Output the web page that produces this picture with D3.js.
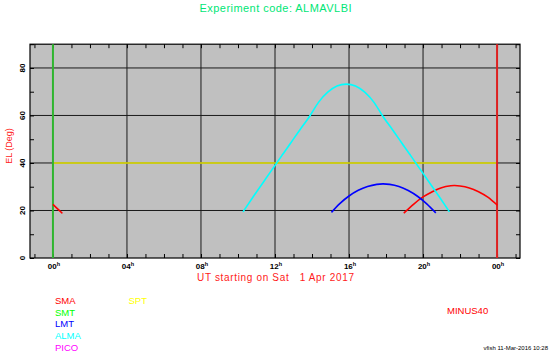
<!DOCTYPE html>
<html><head><meta charset="utf-8">
<script src="https://cdn.jsdelivr.net/npm/d3@7"></script>
<style>
html,body{margin:0;padding:0;background:#fff;}
svg{display:block;font-family:"Liberation Sans",Arial,sans-serif;}
</style></head>
<body><svg id="c" width="549" height="352"></svg>
<script>
// ---- data ----
const majorHours = [0, 4, 8, 12, 16, 20, 24];
const majorHourLabels = ["00", "04", "08", "12", "16", "20", "00"];
const minorHours = [-1,0,1,2,3,4,5,6,7,8,9,10,11,12,13,14,15,16,17,18,19,20,21,22,23,24,25];
const elTicks = [0, 20, 40, 60, 80];
const elMinor = [10, 30, 50, 70, 90];
const gridHours = [4, 8, 12, 16, 20];
const gridEl = [20, 40, 60, 80];

const smaHoursA = [0, 0.25, 0.51];
const smaElA = [22.6, 20.7, 18.8];
const smaHoursB = [18.96, 19.5, 20, 20.5, 21, 21.5, 21.71, 22, 22.5, 23, 23.5, 24.02];
const smaElB = [18.9, 22.7, 25.7, 27.9, 29.6, 30.4, 30.5, 30.3, 29.5, 27.9, 25.6, 22.2];
const lmtHours = [15.05, 15.5, 16, 16.5, 17, 17.5, 17.84, 18.2, 18.7, 19.2, 19.7, 20.2, 20.69];
const lmtEl = [19.2, 22.9, 26.1, 28.5, 30.1, 31.0, 31.2, 31.0, 30.1, 28.4, 26.0, 22.8, 19.0];
const almaHours = [10.27, 10.85, 11.35, 11.85, 12.09, 12.35, 12.85, 13.35, 13.9, 14.35, 14.85, 15.35, 15.85,
                   16.35, 16.85, 17.35, 17.8, 18.35, 18.85, 19.35, 19.61, 19.85, 20.35, 20.85, 21.43];
const almaEl = [19.4, 26.1, 31.7, 37.3, 40.0, 42.9, 48.4, 54.0, 60.0, 65.5, 69.8, 72.4, 73.2,
                72.4, 69.8, 65.5, 60.0, 54.0, 48.4, 42.9, 40.0, 37.3, 31.7, 26.1, 19.4];
const sptHours = [0, 24];
const sptEl = [40, 40];

const legendLeft = ["SMA", "SMT", "LMT", "ALMA", "PICO"];
const legendLeftColors = ["#ff0000", "#00ff00", "#0000ff", "#00ffff", "#ff00ff"];
const legendMid = ["SPT"];
const legendMidColors = ["#ffff00"];
const legendRight = ["MINUS40"];
const legendRightColors = ["#ff0000"];

const titleText = "Experiment code: ALMAVLBI";
const xLabelText = "UT starting on Sat   1 Apr 2017";
const yLabelText = "EL (Deg)";
const footerText = "vfish 11-Mar-2016 10:28";
const startHour = 0, endHour = 24;

// ---- layout ----
const svg = d3.select("#c");
const L = 30, R = 520, T = 44.2, B = 258;
const x = d3.scaleLinear().domain([-1.24, 25.24]).range([L, R]);
const y = d3.scaleLinear().domain([0, 90]).range([B, T]);

svg.append("rect").attr("x", L).attr("y", T).attr("width", R - L).attr("height", B - T)
  .attr("fill", "#c0c0c0");

// grid
svg.append("g").selectAll("line").data(gridHours).join("line")
  .attr("x1", d => x(d)).attr("x2", d => x(d)).attr("y1", T).attr("y2", B)
  .attr("stroke", "#1a1a1a").attr("stroke-width", 1);
svg.append("g").selectAll("line").data(gridEl).join("line")
  .attr("x1", L).attr("x2", R).attr("y1", d => y(d)).attr("y2", d => y(d))
  .attr("stroke", "#1a1a1a").attr("stroke-width", 1);

// ticks via axes (inward)
const axB = d3.axisBottom(x).tickValues(minorHours).tickSize(-4).tickFormat("");
const axT = d3.axisTop(x).tickValues(minorHours).tickSize(-4).tickFormat("");
const axL = d3.axisLeft(y).tickValues(elMinor.concat(elTicks)).tickSize(-4).tickFormat("");
const axR = d3.axisRight(y).tickValues(elMinor.concat(elTicks)).tickSize(-4).tickFormat("");
[[axB, `translate(0,${B})`], [axT, `translate(0,${T})`], [axL, `translate(${L},0)`], [axR, `translate(${R},0)`]]
  .forEach(([ax, tr]) => {
    const g = svg.append("g").attr("transform", tr).call(ax);
    g.select(".domain").remove();
    g.selectAll("line").attr("stroke", "#000");
  });

// frame
svg.append("rect").attr("x", L).attr("y", T).attr("width", R - L).attr("height", B - T)
  .attr("fill", "none").attr("stroke", "#000").attr("stroke-width", 1.2);

// SPT
svg.append("path").datum(d3.zip(sptHours, sptEl)).attr("d", d3.line().x(d => x(d[0])).y(d => y(d[1])))
  .attr("fill", "none").attr("stroke", "#e8e800").attr("stroke-width", 1.6);

// start/end markers
svg.append("line").attr("x1", x(startHour)).attr("x2", x(startHour)).attr("y1", T).attr("y2", B)
  .attr("stroke", "#2fb52f").attr("stroke-width", 2);
svg.append("line").attr("x1", x(endHour)).attr("x2", x(endHour)).attr("y1", T).attr("y2", B)
  .attr("stroke", "#dd2020").attr("stroke-width", 2);

// curves
const line = d3.line().x(d => x(d[0])).y(d => y(d[1])).curve(d3.curveNatural);
const series = [
  [smaHoursA, smaElA, "#ff0000"],
  [smaHoursB, smaElB, "#ff0000"],
  [lmtHours, lmtEl, "#0000ff"],
  [almaHours, almaEl, "#00ffff"],
];
series.forEach(([h, e, c]) => {
  svg.append("path").datum(d3.zip(h, e)).attr("d", line)
    .attr("fill", "none").attr("stroke", c).attr("stroke-width", 1.6);
});

// x tick labels
const xl = svg.append("g").selectAll("text").data(majorHours).join("text")
  .attr("x", d => x(d) + 1).attr("y", 269).attr("text-anchor", "middle")
  .attr("font-size", 8).attr("font-weight", "bold").attr("fill", "#000");
xl.append("tspan").text((d, i) => majorHourLabels[i]);
xl.append("tspan").attr("font-size", 5.5).attr("dy", -3.5).text("h");

// y tick labels (rotated)
svg.append("g").selectAll("text").data(elTicks).join("text")
  .attr("transform", d => `translate(25,${y(d)}) rotate(-90)`)
  .attr("text-anchor", "middle").attr("font-size", 8).attr("font-weight", "bold")
  .attr("fill", "#000").text(d => d);

// labels
svg.append("text").attr("x", 275.5).attr("y", 12).attr("text-anchor", "middle")
  .attr("font-size", 11).attr("fill", "#00e676")
  .attr("textLength", 152).attr("lengthAdjust", "spacing").text(titleText);
svg.append("text").attr("x", 275.5).attr("y", 281).attr("text-anchor", "middle")
  .attr("font-size", 10).attr("fill", "#ff1a1a").style("white-space", "pre")
  .attr("textLength", 157).attr("lengthAdjust", "spacing").text(xLabelText);
svg.append("text").attr("transform", "translate(12,146) rotate(-90)").attr("text-anchor", "middle")
  .attr("font-size", 9).attr("fill", "#ff1a1a").text(yLabelText);

// legend
svg.append("g").selectAll("text").data(legendLeft).join("text")
  .attr("x", 55).attr("y", (d, i) => 304 + i * 11.7)
  .attr("font-size", 9.5).attr("fill", (d, i) => legendLeftColors[i]).text(d => d);
svg.append("g").selectAll("text").data(legendMid).join("text")
  .attr("x", 128.5).attr("y", 303.5).attr("font-size", 9.5)
  .attr("fill", (d, i) => legendMidColors[i]).text(d => d);
svg.append("g").selectAll("text").data(legendRight).join("text")
  .attr("x", 447).attr("y", 313.5).attr("font-size", 9.5)
  .attr("fill", (d, i) => legendRightColors[i]).text(d => d);

svg.append("text").attr("x", 548).attr("y", 350).attr("text-anchor", "end")
  .attr("font-size", 6).attr("fill", "#000").text(footerText);
</script></body></html>
